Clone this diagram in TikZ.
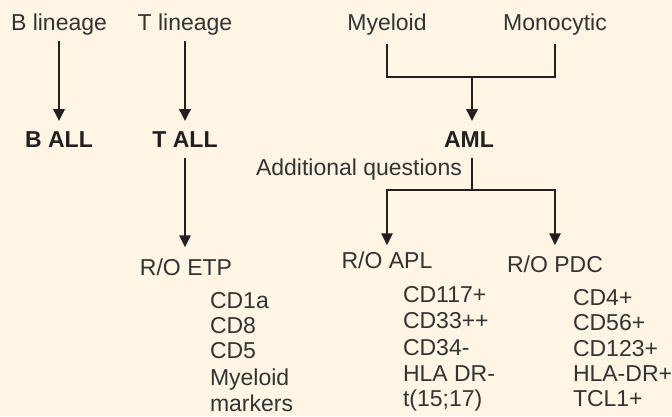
\documentclass[tikz,border=0pt]{standalone}
\usepackage{fontspec}
\setmainfont{Liberation Sans}
\usetikzlibrary{arrows.meta}
\definecolor{bg}{HTML}{FEF5E4}
\definecolor{ink}{HTML}{231F20}
\definecolor{txt}{HTML}{333333}
\begin{document}
\begin{tikzpicture}[x=1pt,y=-1pt,
  lbl/.style={inner sep=0pt, outer sep=0pt, anchor=base west, text=txt, font=\fontsize{23}{26}\selectfont},
  ctr/.style={lbl, anchor=base},
  hd/.style={ctr, text=ink, font=\fontsize{23}{26}\selectfont\bfseries},
  conn/.style={draw=ink, line width=2.7pt},
  arr/.style={conn, -{Triangle[length=12pt,width=11pt]}}]
\fill[bg] (0,0) rectangle (672,416);
\useasboundingbox (0,0) rectangle (672,416);
% headers
\node[ctr] (blin) at (59,30) {B lineage};
\node[ctr] (tlin) at (185,30) {T lineage};
\node[ctr] (mye) at (387,30) {Myeloid};
\node[ctr] (mono) at (555,30) {Monocytic};
% diagnoses
\node[hd] (ball) at (59,147) {B ALL};
\node[hd] (tall) at (185,147) {T ALL};
\node[hd] (aml) at (469,147) {AML};
\node[lbl] (addq) at (256,175) {Additional questions};
% rule-outs
\node[ctr] (etp) at (186,275) {R/O ETP};
\node[ctr] (apl) at (387,268) {R/O APL};
\node[ctr] (pdc) at (555,272) {R/O PDC};
% junctions
\coordinate (j1) at (472,77);
\coordinate (j2) at (472,190);
% lists
\node[lbl] (etp1) at (210,308) {CD1a};
\node[lbl] (etp2) at (210,333) {CD8};
\node[lbl] (etp3) at (210,358) {CD5};
\node[lbl] (etp4) at (210,385) {Myeloid};
\node[lbl] (etp5) at (210,411) {markers};
\node[lbl] (apl1) at (403,302) {CD117+};
\node[lbl] (apl2) at (403,328) {CD33++};
\node[lbl] (apl3) at (403,355) {CD34-};
\node[lbl] (apl4) at (403,381) {HLA DR-};
\node[lbl] (apl5) at (403,406) {t(15;17)};
\node[lbl] (pdc1) at (573,305) {CD4+};
\node[lbl] (pdc2) at (573,330) {CD56+};
\node[lbl] (pdc3) at (573,356) {CD123+};
\node[lbl] (pdc4) at (573,381) {HLA-DR+};
\node[lbl] (pdc5) at (573,406) {TCL1+};
% connectors
\draw[arr, shorten <=6pt, shorten >=10pt] (blin.south) -- (blin.south |- ball.north);
\draw[arr, shorten <=6pt, shorten >=10pt] (tlin.south) -- (tlin.south |- tall.north);
\draw[arr, shorten <=11pt, shorten >=11pt] (tall.south) -- (tall.south |- etp.north);
\draw[conn, shorten <=9pt, shorten >=9pt] (mye.south) |- (j1) -| (mono.south);
\draw[arr, shorten >=10pt] (j1) -- (j1 |- aml.north);
\draw[conn, shorten <=11pt] (j2 |- aml.south) -- (j2);
\draw[arr, shorten >=6pt] (j2) -| (apl.north);
\draw[arr, shorten >=10pt] (j2) -| (pdc.north);
\end{tikzpicture}
\end{document}
